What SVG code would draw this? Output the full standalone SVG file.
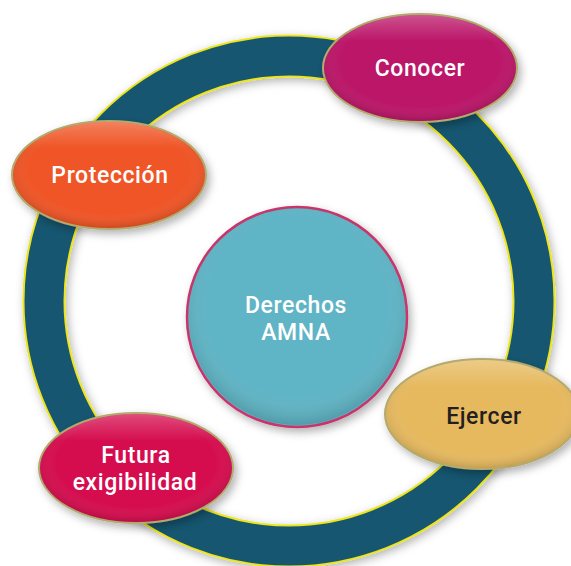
<svg xmlns="http://www.w3.org/2000/svg" width="571" height="566" viewBox="0 0 571 566">
  <style>
    .lbl { font-family: Roboto, "Open Sans", "Liberation Sans", sans-serif; font-weight: 500; font-size: 23px; letter-spacing: 0.6px; text-anchor: middle; fill: #ffffff; }
    .dark { fill: #231f20; }
    .oval { stroke: #b3aa6e; stroke-width: 2; filter: url(#shadow); }
  </style>
  <defs>
    <filter id="shadow" x="-20%" y="-20%" width="150%" height="150%">
      <feDropShadow dx="3" dy="4" stdDeviation="4" flood-color="#000000" flood-opacity="0.3"/>
    </filter>
    <filter id="ringShadow" x="-10%" y="-10%" width="120%" height="120%">
      <feDropShadow dx="2" dy="3" stdDeviation="5" flood-color="#000000" flood-opacity="0.3"/>
    </filter>
    <radialGradient id="gloss" cx="0.5" cy="0.45" r="0.55">
      <stop offset="0.75" stop-color="#ffffff" stop-opacity="0"/>
      <stop offset="1" stop-color="#000000" stop-opacity="0.14"/>
    </radialGradient>
    <linearGradient id="hilite" x1="0" y1="0" x2="0" y2="1">
      <stop offset="0" stop-color="#ffffff" stop-opacity="0.25"/>
      <stop offset="0.25" stop-color="#ffffff" stop-opacity="0"/>
    </linearGradient>
  </defs>

  <g id="connectors">
    <g filter="url(#ringShadow)">
      <circle cx="289" cy="301" r="245" fill="none" stroke="#ece41c" stroke-width="43"/>
      <circle cx="289" cy="301" r="245" fill="none" stroke="#175670" stroke-width="39"/>
    </g>
  </g>

  <g id="node-center">
    <circle cx="297" cy="317" r="110" fill="#5fb4c5" stroke="#c8346a" stroke-width="2.5" filter="url(#shadow)"/>
    <circle cx="297" cy="317" r="108" fill="url(#gloss)"/>
    <text class="lbl" x="296" y="313">Derechos</text>
    <text class="lbl" x="296" y="340">AMNA</text>
  </g>

  <g id="node-conocer">
    <ellipse class="oval" cx="420" cy="68" rx="97" ry="54" fill="#bb1468"/>
    <ellipse cx="420" cy="68" rx="96" ry="53" fill="url(#gloss)"/>
    <ellipse cx="420" cy="68" rx="96" ry="53" fill="url(#hilite)"/>
    <text class="lbl" x="420" y="76">Conocer</text>
  </g>

  <g id="node-proteccion">
    <ellipse class="oval" cx="109" cy="175" rx="97" ry="54" fill="#ef5425"/>
    <ellipse cx="109" cy="175" rx="96" ry="53" fill="url(#gloss)"/>
    <ellipse cx="109" cy="175" rx="96" ry="53" fill="url(#hilite)"/>
    <text class="lbl" x="110" y="183">Protección</text>
  </g>

  <g id="node-ejercer">
    <ellipse class="oval" cx="482" cy="414" rx="97" ry="55" fill="#e6b95e"/>
    <ellipse cx="482" cy="414" rx="96" ry="54" fill="url(#gloss)"/>
    <ellipse cx="482" cy="414" rx="96" ry="54" fill="url(#hilite)"/>
    <text class="lbl dark" x="484" y="424">Ejercer</text>
  </g>

  <g id="node-futura">
    <ellipse class="oval" cx="136" cy="468" rx="97" ry="55" fill="#d5104f"/>
    <ellipse cx="136" cy="468" rx="96" ry="54" fill="url(#gloss)"/>
    <ellipse cx="136" cy="468" rx="96" ry="54" fill="url(#hilite)"/>
    <text class="lbl" x="136" y="463">Futura</text>
    <text class="lbl" x="135" y="490">exigibilidad</text>
  </g>
</svg>
